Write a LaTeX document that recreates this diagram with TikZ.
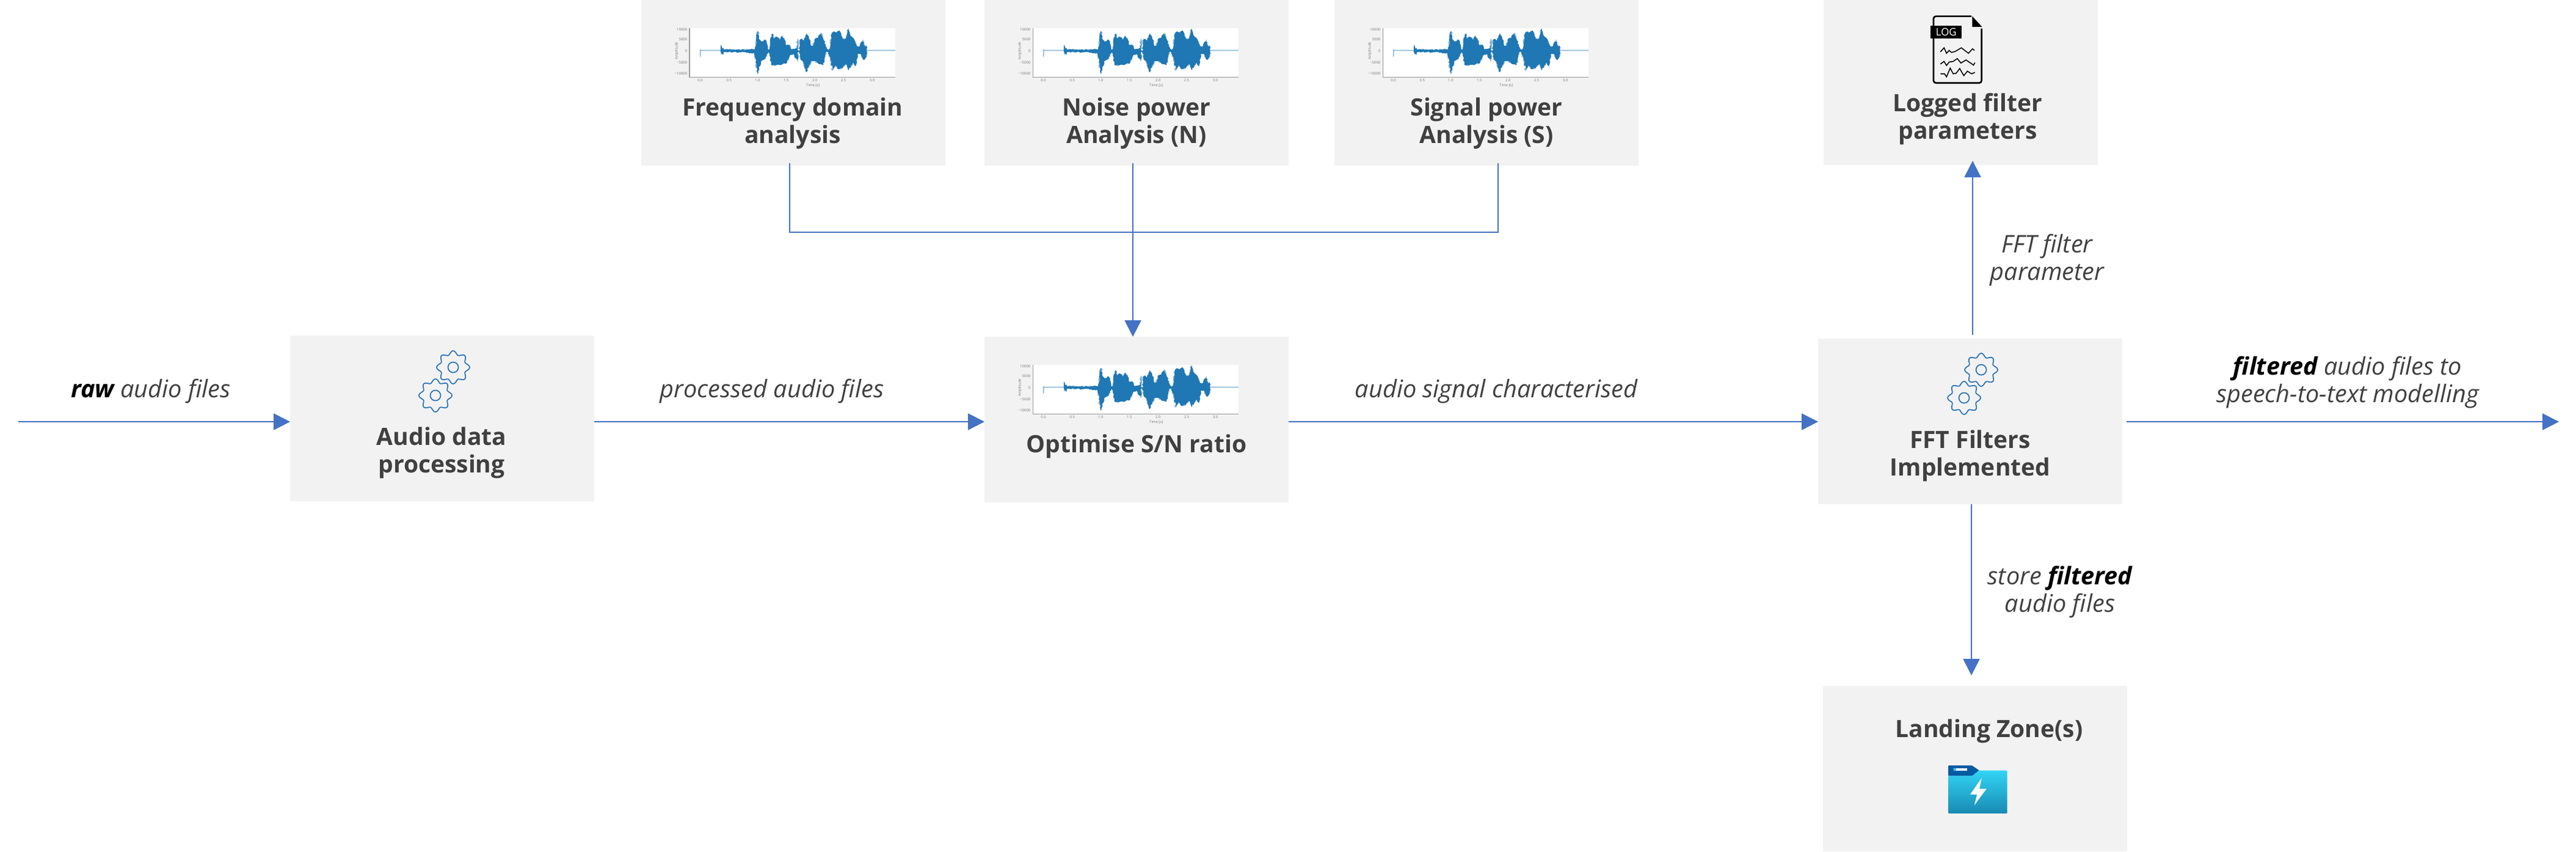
\documentclass[tikz,border=0pt]{standalone}
\usepackage{fontspec}
\setmainfont{Open Sans}
\usetikzlibrary{arrows.meta,decorations.pathmorphing}

\definecolor{boxgray}{HTML}{F2F2F2}
\definecolor{textgray}{HTML}{404040}
\definecolor{flowblue}{HTML}{4472C4}
\definecolor{gearblue}{HTML}{2E75B6}
\definecolor{wavedark}{HTML}{1F77B4}
\definecolor{wavelight}{HTML}{8FBBD9}
\definecolor{axisgray}{HTML}{999999}
\definecolor{ticktext}{HTML}{777777}
\definecolor{foldertab}{HTML}{005BA1}
\definecolor{foldertop}{HTML}{32D4F5}
\definecolor{folderlow}{HTML}{198AB3}
\definecolor{folderbar}{HTML}{32BEF0}

\newcommand{\wavepath}{(420,245) -- (422,220) -- (426,240) -- (432,235) -- (437,245) -- (590,243) -- (596,190) -- (600,155) -- (606,155) -- (612,195) -- (622,205) -- (640,195) -- (648,215) -- (655,245) -- (662,240) -- (666,185) -- (676,165) -- (682,190) -- (695,180) -- (705,185) -- (712,195) -- (725,175) -- (735,195) -- (745,225) -- (758,220) -- (765,240) -- (780,240) -- (797,235) -- (800,190) -- (802,250) -- (808,250) -- (810,195) -- (820,190) -- (830,200) -- (843,165) -- (855,185) -- (865,225) -- (875,225) -- (885,190) -- (900,185) -- (913,160) -- (925,190) -- (940,230) -- (950,245) -- (958,235) -- (965,170) -- (975,155) -- (990,160) -- (1005,150) -- (1020,190) -- (1035,190) -- (1050,140) -- (1060,175) -- (1075,190) -- (1090,225) -- (1100,230) -- (1122,195) -- (1128,230) -- (1138,225) -- (1140,245) -- (1140,255) -- (1138,278) -- (1125,295) -- (1110,265) -- (1095,265) -- (1085,325) -- (1070,310) -- (1050,345) -- (1040,310) -- (1020,335) -- (1000,340) -- (985,320) -- (972,348) -- (960,290) -- (950,255) -- (940,255) -- (925,320) -- (905,315) -- (885,300) -- (865,300) -- (843,355) -- (825,300) -- (812,290) -- (808,255) -- (802,255) -- (798,300) -- (780,265) -- (760,275) -- (745,310) -- (725,315) -- (700,318) -- (672,320) -- (662,270) -- (655,255) -- (640,290) -- (620,300) -- (600,365) -- (594,300) -- (585,260) -- (437,255) -- (432,270) -- (426,262) -- (421,268) -- (420,255) -- cycle}

\tikzset{
	procbox/.style={fill=boxgray, minimum width=4.98cm, minimum height=2.71cm, inner sep=0pt, outer sep=0pt},
	boxtext/.style={text=textgray, align=center, inner sep=0pt, font=\fontsize{11.1}{12.8}\selectfont\bfseries},
	flowtext/.style={text=textgray, align=center, inner sep=0pt, font=\fontsize{11.3}{12.8}\selectfont\itshape},
	flowline/.style={draw=flowblue, line width=0.6pt},
	flowarrow/.style={flowline, -{Triangle[length=2.7mm,width=2.7mm]}},
	gearline/.style={draw=gearblue, line width=0.5pt},
	ticklabel/.style={text=ticktext, inner sep=0pt, font=\fontsize{1.7}{2}\selectfont},
	gearwheel/.pic={
		\draw[gearline] plot[domain=0:360,samples=97,smooth] (\x:{0.24+0.03*cos(8*\x)}) -- cycle;
		\draw[gearline] (0,0) circle (0.085);
	},
	% origin is the top left corner of the white plot, numbers in 1/3 pixels
	wavethumb/.pic={
		\begin{scope}[x=0.00333cm,y=-0.00333cm,shift={(-270,-138)}]
			\fill[white] (270,138) rectangle (1280,378);
			\draw[axisgray,line width=0.3pt] (267,138) -- (267,379) -- (1280,379);
			\draw[wavelight,line width=0.5pt] (320,278) -- (320,245) -- (326,248) -- (1280,248);
			\pgfmathsetseed{11}
			\fill[wavelight,decorate,decoration={random steps,segment length=0.02cm,amplitude=0.022cm}] \wavepath;
			\fill[wavedark,decorate,decoration={random steps,segment length=0.025cm,amplitude=0.012cm}] \wavepath;
			\foreach \xv/\lab [count=\n] in {320/0.0,462/0.5,602/1.0,743/1.5,884/2.0,1025/2.5,1166/3.0} {
				\node[ticklabel] (xtick\n) at (\xv,396) {\lab};
			}
			\foreach \yv/\lab [count=\n] in {145/10000,193/5000,250/0,307/−5000,363/−10000} {
				\node[ticklabel,anchor=east] (ytick\n) at (258,\yv) {\lab};
			}
			\node[ticklabel] (timelabel) at (875,420) {Time [s]};
			\node[ticklabel,rotate=90] (amplabel) at (204,250) {Amplitude};
		\end{scope}
	},
}

\begin{document}
\begin{tikzpicture}
	\useasboundingbox (0,0) rectangle (42.18,-13.93);

	% boxes
	\node[procbox] (freq) at (12.99,-1.35) {};
	\node[procbox] (noise) at (18.61,-1.35) {};
	\node[procbox] (signal) at (24.34,-1.35) {};
	\node[procbox,minimum width=4.49cm] (logged) at (32.105,-1.345) {};
	\node[procbox] (audio) at (7.24,-6.845) {};
	\node[procbox] (optimise) at (18.61,-6.865) {};
	\node[procbox] (fft) at (32.26,-6.895) {};
	\node[procbox] (landing) at (32.34,-12.575) {};

	% plots
	\pic (freqwave) at (11.30,-0.46) {wavethumb};
	\pic (noisewave) at (16.92,-0.46) {wavethumb};
	\pic (signalwave) at (22.65,-0.46) {wavethumb};
	\pic (optwave) at (16.92,-5.97) {wavethumb};

	% gears
	\pic (audiogeartop) at (7.42,-6.01) {gearwheel};
	\pic (audiogearlow) at (7.13,-6.47) {gearwheel};
	\pic (fftgeartop) at (32.44,-6.05) {gearwheel};
	\pic (fftgearlow) at (32.16,-6.51) {gearwheel};

	% log file
	\begin{scope}[shift={(31.30,-0.10)},x=0.00333cm,y=-0.00333cm]
		\draw[black,line width=0.75pt,rounded corners=0.04cm] (295,50) -- (108,50) -- (108,378) -- (345,378) -- (345,110);
		\fill[black] (299,50) -- (347,102) -- (299,102) -- cycle;
		\draw[black,line width=0.45pt] (142,225) -- (160,205) -- (172,232) -- (185,218) -- (197,228) -- (215,223) -- (245,205) -- (280,232) -- (300,210) -- (310,218);
		\draw[black,line width=0.45pt] (142,285) -- (160,272) -- (172,292) -- (185,275) -- (205,272) -- (225,258) -- (243,280) -- (268,265) -- (305,290) -- (312,278);
		\draw[black,line width=0.45pt] (142,333) -- (162,333) -- (172,348) -- (190,305) -- (205,333) -- (220,330) -- (237,307) -- (257,342) -- (275,320) -- (295,333) -- (312,326);
		\node[fill=black,text=white,inner sep=0pt,minimum width=0.51cm,minimum height=0.203cm,font=\fontsize{4.8}{5}\selectfont] (logtag) at (170.5,127.5) {LOG};
	\end{scope}

	% folder
	\begin{scope}[shift={(29.70,-11.10)},x=0.00333cm,y=-0.00333cm]
		\fill[foldertab,rounded corners=0.01cm] (662,480) -- (662,428) -- (778,428) -- (815,453) -- (790,480) -- cycle;
		\shade[top color=foldertop,bottom color=folderlow,rounded corners=0.01cm] (662,480) -- (778,480) -- (812,453) -- (952,453) -- (952,664) -- (662,664) -- cycle;
		\fill[folderbar,rounded corners=0.01cm] (687,441) rectangle (705,455);
		\fill[white] (701,441) rectangle (755,455);
		\fill[white] (826,490) -- (770,570) -- (803,572) -- (790,624) -- (850,543) -- (815,543) -- cycle;
	\end{scope}

	% box texts
	\node[boxtext] (freqtext) at (12.98,-2.02) {Frequency domain\\analysis};
	\node[boxtext] (noisetext) at (18.61,-2.02) {Noise power\\Analysis (N)};
	\node[boxtext] (signaltext) at (24.34,-2.02) {Signal power\\Analysis (S)};
	\node[boxtext] (loggedtext) at (32.22,-1.95) {Logged filter\\parameters};
	\node[boxtext] (audiotext) at (7.23,-7.41) {Audio data\\processing};
	\node[boxtext] (opttext) at (18.61,-7.30) {Optimise S/N ratio};
	\node[boxtext] (ffttext) at (32.26,-7.46) {FFT Filters\\Implemented};
	\node[boxtext] (landingtext) at (32.57,-11.96) {Landing Zone(s)};

	% flow along the middle
	\coordinate (rawin) at (0.30,-6.90);
	\coordinate (filteredout) at (41.90,-6.90);
	\draw[flowarrow] (rawin) -- (rawin -| audio.west);
	\draw[flowarrow] (audio.east |- rawin) -- (optimise.west |- rawin);
	\draw[flowarrow] (optimise.east |- rawin) -- (fft.west |- rawin);
	\draw[flowarrow] ([xshift=0.07cm]fft.east |- rawin) -- (filteredout);

	% analysis boxes into the optimiser
	\coordinate (busleft) at (12.93,-3.80);
	\coordinate (busright) at (24.53,-3.80);
	\coordinate (busmid) at (18.55,-3.80);
	\draw[flowline] ([yshift=0.04cm]busleft |- freq.south) -- (busleft) -- (busright) -- ([yshift=0.04cm]busright |- signal.south);
	\draw[flowarrow] ([yshift=0.04cm]busmid |- noise.south) -- (busmid |- optimise.north);

	% up and down from the filters
	\coordinate (upline) at (32.30,-2.63);
	\coordinate (downline) at (32.28,-11.05);
	\draw[flowarrow] (upline |- fft.north) ++(0,0.06) -- (upline);
	\draw[flowarrow] (downline |- fft.south) -- (downline);

	% labels on the flow
	\node[flowtext] (rawlabel) at (2.47,-6.40) {{\bfseries\color{black}raw} audio files};
	\node[flowtext] (proclabel) at (12.64,-6.40) {processed audio files};
	\node[flowtext] (charlabel) at (24.50,-6.40) {audio signal characterised};
	\node[flowtext] (paramlabel) at (33.52,-4.26) {FFT filter\\parameter};
	\node[flowtext] (storelabel) at (33.73,-9.69) {store {\bfseries\color{black}filtered}\\audio files};
	\node[flowtext] (outlabel) at (38.44,-6.26) {{\bfseries\color{black}filtered} audio files to\\speech-to-text modelling};
\end{tikzpicture}
\end{document}
